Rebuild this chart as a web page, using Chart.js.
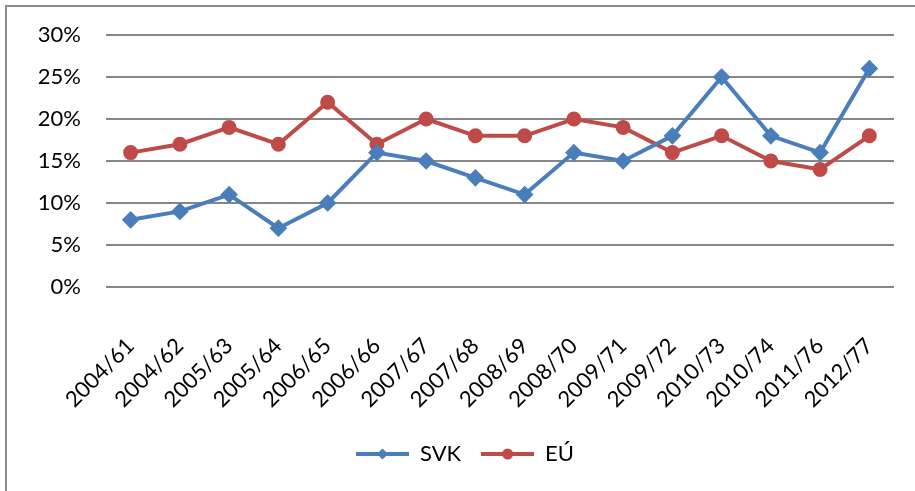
<!DOCTYPE html>
<html>
<head>
<meta charset="utf-8">
<script src="https://cdn.jsdelivr.net/npm/chart.js@4"></script>
<style>
  html, body { margin: 0; padding: 0; background: #fff; }
  #wrap { position: relative; width: 915px; height: 491px; overflow: hidden; }
  #frame { position: absolute; left: 5px; top: 5px; width: 1000px; height: 1000px; border-left: 2px solid #8c8c8c; border-top: 2px solid #8c8c8c; }
  canvas { position: absolute; left: 0; top: 0; }
</style>
</head>
<body>
<div id="wrap">
  <div id="frame"></div>
  <canvas id="myChart" width="915" height="491"></canvas>
</div>
<script>
const chart = document.getElementById("myChart");
const roky = [
  "2004/61", "2004/62", "2005/63", "2005/64", "2006/65", "2006/66",
  "2007/67", "2007/68", "2008/69", "2008/70", "2009/71", "2009/72",
  "2010/73", "2010/74", "2011/76", "2012/77",
];
const svk = [8, 9, 11, 7, 10, 16, 15, 13, 11, 16, 15, 18, 25, 18, 16, 26];
const eu = [16, 17, 19, 17, 22, 17, 20, 18, 18, 20, 19, 16, 18, 15, 14, 18];
const yTicks = [0, 5, 10, 15, 20, 25, 30];

const modra = "#4a7ebb";
const cervena = "#be4b48";
const font = "Lato, 'Open Sans', sans-serif";

// legend swatch: line with marker in the middle
function swatch(color, style) {
  const c = document.createElement("canvas");
  c.width = 53;
  c.height = 14;
  const ctx = c.getContext("2d");
  ctx.strokeStyle = color;
  ctx.fillStyle = color;
  ctx.lineWidth = 4;
  ctx.beginPath();
  ctx.moveTo(0, 7);
  ctx.lineTo(53, 7);
  ctx.stroke();
  ctx.beginPath();
  if (style === "diamond") {
    ctx.moveTo(26.5, 1.5); ctx.lineTo(32, 7); ctx.lineTo(26.5, 12.5); ctx.lineTo(21, 7);
  } else {
    ctx.arc(26.5, 7, 5.5, 0, Math.PI * 2);
  }
  ctx.closePath();
  ctx.fill();
  return c;
}

new Chart(chart, {
  type: "line",
  data: {
    labels: roky,
    datasets: [
      {
        label: "SVK",
        data: svk,
        borderColor: modra,
        backgroundColor: modra,
        borderWidth: 4,
        pointStyle: "rectRot",
        pointRadius: 6,
        pointHoverRadius: 6,
        tension: 0,
        legendIcon: swatch(modra, "diamond"),
      },
      {
        label: "EÚ",
        data: eu,
        borderColor: cervena,
        backgroundColor: cervena,
        borderWidth: 4,
        pointStyle: "circle",
        pointRadius: 5.5,
        pointHoverRadius: 5.5,
        tension: 0,
        legendIcon: swatch(cervena, "circle"),
      },
    ],
  },
  options: {
    responsive: false,
    animation: false,
    layout: { padding: { left: 36, right: 21, top: 35, bottom: 16 } },
    scales: {
      x: {
        offset: true,
        grid: { display: false, drawTicks: false },
        border: { display: false },
        ticks: {
          autoSkip: false,
          maxRotation: 45,
          minRotation: 45,
          padding: 46,
          color: "#000",
          font: { family: font, size: 22 },
        },
        afterFit: (axis) => {
          axis.paddingLeft = 0;
          axis.paddingRight = 0;
          axis.height = 136;
        },
      },
      y: {
        min: 0,
        max: 30,
        afterBuildTicks: (axis) => {
          axis.ticks = yTicks.map((v) => ({ value: v }));
        },
        grid: { color: "#868686", lineWidth: 2, drawTicks: false },
        border: { display: false },
        ticks: {
          padding: 25,
          color: "#000",
          font: { family: font, size: 22 },
          callback: (v) => v + "%",
        },
        afterFit: (axis) => {
          axis.paddingTop = 0;
          axis.paddingBottom = 0;
          axis.width = 70;
        },
      },
    },
    plugins: {
      legend: {
        position: "bottom",
        labels: {
          usePointStyle: true,
          pointStyleWidth: 53,
          padding: 20,
          color: "#000",
          font: { family: font, size: 22 },
          generateLabels: (c) =>
            c.data.datasets.map((ds, i) => ({
              text: ds.label,
              fillStyle: ds.borderColor,
              strokeStyle: ds.borderColor,
              pointStyle: ds.legendIcon,
              fontColor: "#000",
              datasetIndex: i,
              hidden: false,
            })),
        },
      },
      tooltip: { enabled: false },
    },
  },
});
</script>
</body>
</html>
